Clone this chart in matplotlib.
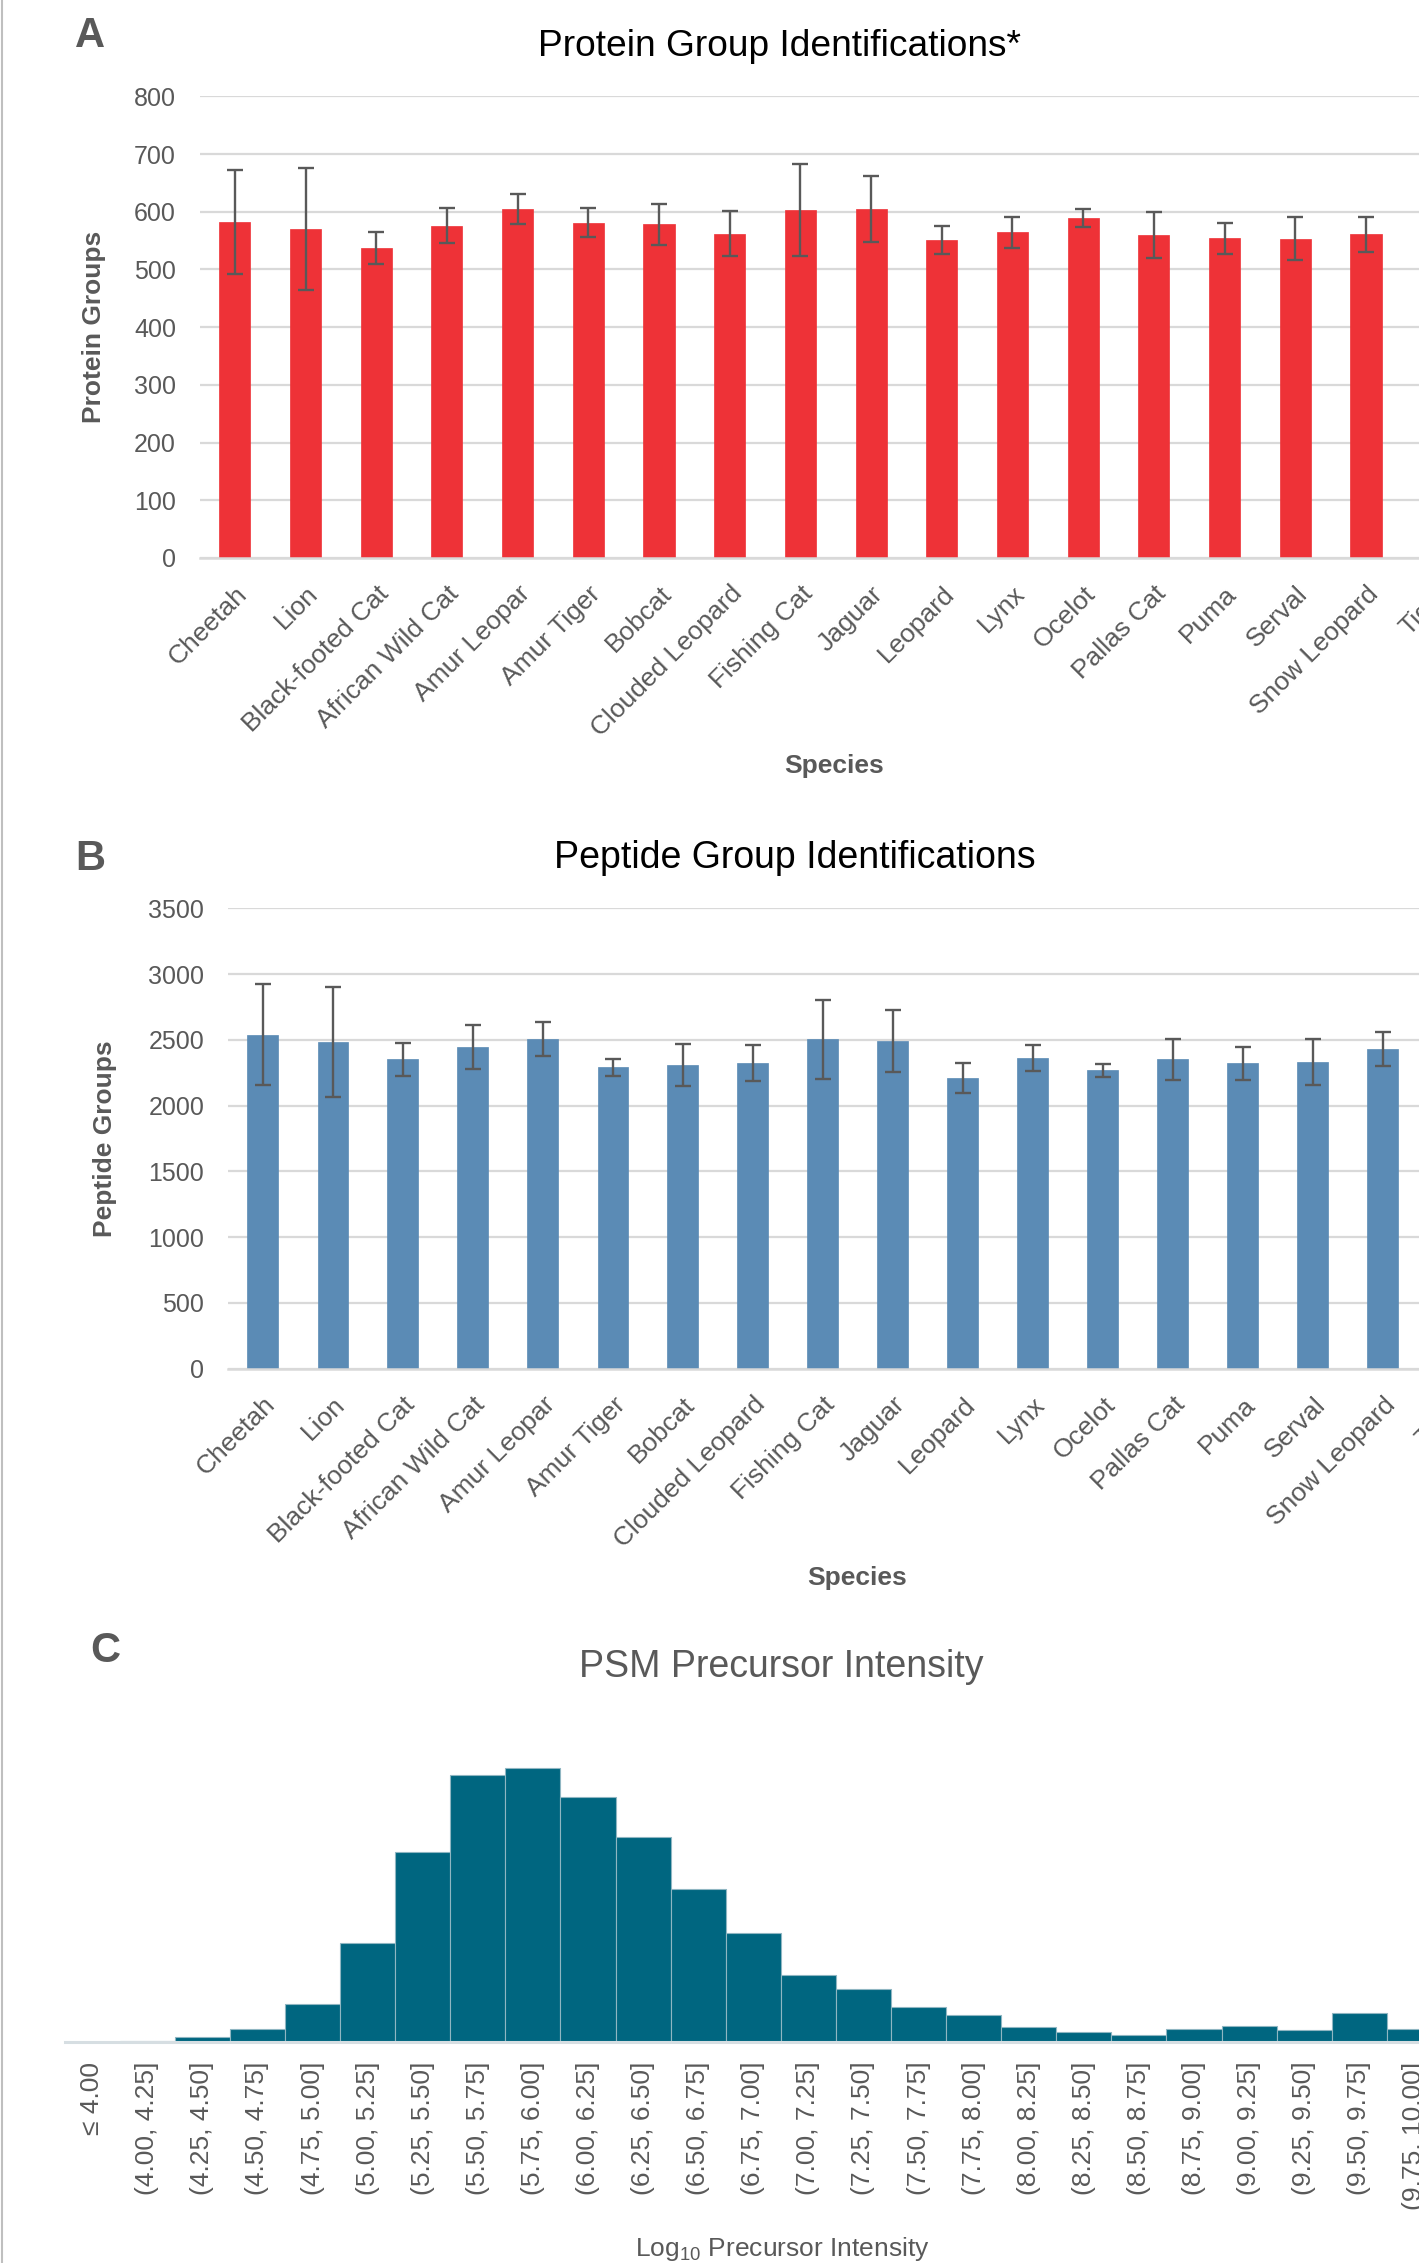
import matplotlib
matplotlib.use('Agg')
import matplotlib.pyplot as plt
from matplotlib.lines import Line2D
from matplotlib.transforms import ScaledTranslation

plt.rcParams['font.family'] = ['Liberation Sans', 'DejaVu Sans']
plt.rcParams['mathtext.fontset'] = 'custom'
plt.rcParams['mathtext.rm'] = 'Liberation Sans'
plt.rcParams['mathtext.it'] = 'Liberation Sans:italic'
plt.rcParams['mathtext.bf'] = 'Liberation Sans:bold'

# ---------------- data ----------------
species = ["Cheetah", "Lion", "Black-footed Cat", "African Wild Cat", "Amur Leopar",
           "Amur Tiger", "Bobcat", "Clouded Leopard", "Fishing Cat", "Jaguar",
           "Leopard", "Lynx", "Ocelot", "Pallas Cat", "Puma", "Serval",
           "Snow Leopard", "Tiger"]
protein_groups = [582, 570, 537, 576, 605, 581, 578, 562, 603, 605,
                  551, 564, 589, 559, 554, 553, 561, 570]
protein_err = [90, 105, 27, 31, 26, 25, 35, 39, 80, 57,
               24, 27, 16, 40, 27, 37, 30, 30]
peptide_groups = [2539, 2486, 2352, 2445, 2506, 2291, 2308, 2321, 2503, 2491,
                  2207, 2359, 2270, 2352, 2321, 2331, 2430, 2400]
peptide_err = [385, 418, 127, 168, 130, 63, 162, 137, 299, 233,
               114, 99, 49, 156, 126, 175, 126, 120]
protein_yticks = [0, 100, 200, 300, 400, 500, 600, 700, 800]
peptide_yticks = [0, 500, 1000, 1500, 2000, 2500, 3000, 3500]

intensity_bins = ["≤ 4.00", "(4.00, 4.25]", "(4.25, 4.50]", "(4.50, 4.75]",
                  "(4.75, 5.00]", "(5.00, 5.25]", "(5.25, 5.50]", "(5.50, 5.75]",
                  "(5.75, 6.00]", "(6.00, 6.25]", "(6.25, 6.50]", "(6.50, 6.75]",
                  "(6.75, 7.00]", "(7.00, 7.25]", "(7.25, 7.50]", "(7.50, 7.75]",
                  "(7.75, 8.00]", "(8.00, 8.25]", "(8.25, 8.50]", "(8.50, 8.75]",
                  "(8.75, 9.00]", "(9.00, 9.25]", "(9.25, 9.50]", "(9.50, 9.75]",
                  "(9.75, 10.00]", "> 10.00"]
psm_counts = [5, 17, 57, 137, 380, 990, 1903, 2677, 2747, 2453, 2050, 1537, 1090,
              673, 530, 353, 270, 153, 100, 70, 137, 167, 127, 297, 133, 150]

# ---------------- layout helpers ----------------
W, H = 1419, 2263
fig = plt.figure(figsize=(W / 100, H / 100), dpi=100)
fig.patch.set_facecolor('white')

def axes_px(x0, y_top, x1, y_bot):
    return fig.add_axes([x0 / W, 1 - y_bot / H, (x1 - x0) / W, (y_bot - y_top) / H])

def ftext(x, y, s, **kw):
    fig.text(x / W, 1 - y / H, s, **kw)

GRAY = '#595959'
GRID = '#D9D9D9'

def bar_panel(ax, values, errs, color, yticks, ymax):
    x = list(range(len(species)))
    ax.bar(x, values, width=0.44, color=color, edgecolor=color, linewidth=0.5, zorder=2)
    ax.errorbar(x, values, yerr=errs, fmt='none', ecolor=GRAY, elinewidth=1.7,
                capsize=5.5, capthick=1.7, zorder=3)
    ax.set_xlim(-0.5, len(species) - 0.5)
    ax.set_ylim(0, ymax)
    ax.set_yticks(yticks)
    ax.set_yticklabels([str(v) for v in yticks], fontsize=18, color=GRAY)
    ax.yaxis.grid(True, color=GRID, linewidth=1.6)
    ax.set_axisbelow(True)
    for s in ['top', 'right', 'left']:
        ax.spines[s].set_visible(False)
    ax.spines['bottom'].set_color(GRID)
    ax.spines['bottom'].set_linewidth(1.8)
    ax.set_xticks(x)
    ax.set_xticklabels(species, rotation=45, ha='right', va='top',
                       rotation_mode='anchor', fontsize=19, color=GRAY)
    offset = ScaledTranslation(-5 / 72, 2 / 72, fig.dpi_scale_trans)
    for lab in ax.get_xticklabels():
        lab.set_transform(lab.get_transform() + offset)
    ax.tick_params(axis='both', length=0)
    ax.tick_params(axis='y', pad=17)
    ax.tick_params(axis='x', pad=17)
    ax.set_facecolor('none')

# ---------------- Panel A ----------------
axA = axes_px(199.5, 96.3, 1472, 557.9)
bar_panel(axA, protein_groups, protein_err, '#EE3237', protein_yticks, 800)
ftext(90, 36, 'A', fontsize=30, fontweight='bold', color=GRAY, ha='center', va='center')
ftext(779.5, 47, 'Protein Group Identifications*', fontsize=26.7, color='black',
      ha='center', va='center')
ftext(94, 327, 'Protein Groups', fontsize=19, fontweight='bold', color=GRAY,
      rotation=90, ha='center', va='center')
ftext(834, 766, 'Species', fontsize=19, fontweight='bold', color=GRAY,
      ha='center', va='center')

# ---------------- Panel B ----------------
axB = axes_px(227.9, 908.2, 1487.9, 1368.8)
bar_panel(axB, peptide_groups, peptide_err, '#5B8BB5', peptide_yticks, 3500)
ftext(90, 859, 'B', fontsize=30, fontweight='bold', color=GRAY, ha='center', va='center')
ftext(795, 858, 'Peptide Group Identifications', fontsize=27, color='black',
      ha='center', va='center')
ftext(105, 1139, 'Peptide Groups', fontsize=19, fontweight='bold', color=GRAY,
      rotation=90, ha='center', va='center')
ftext(857.5, 1578, 'Species', fontsize=19, fontweight='bold', color=GRAY,
      ha='center', va='center')

# ---------------- Panel C ----------------
axC = axes_px(64.6, 1740, 1497, 2042.3)
xc = list(range(len(intensity_bins)))
axC.bar(xc, psm_counts, width=1.0, color='#006680', edgecolor='#8FB6C2',
        linewidth=0.8, zorder=2)
axC.set_xlim(-0.5, len(intensity_bins) - 0.5)
axC.set_ylim(0, 3023)
axC.set_yticks([])
for s in ['top', 'right', 'left']:
    axC.spines[s].set_visible(False)
axC.spines['bottom'].set_color('#D6DEE2')
axC.spines['bottom'].set_linewidth(2.2)
axC.set_xticks(xc)
axC.set_xticklabels(intensity_bins, rotation=90, ha='center', va='top',
                    fontsize=19, color=GRAY)
axC.tick_params(axis='x', length=0, pad=14)
axC.set_facecolor('none')
ftext(105.4, 1651.5, 'C', fontsize=30, fontweight='bold', color=GRAY,
      ha='center', va='center')
ftext(781, 1667, 'PSM Precursor Intensity', fontsize=27, color=GRAY,
      ha='center', va='center')
ftext(782, 2249, r'Log$_{10}$ Precursor Intensity', fontsize=19, color=GRAY,
      ha='center', va='center')

# left border line
fig.add_artist(Line2D([1.5 / W, 1.5 / W], [0, 1], color='#BFBFBF', linewidth=1.5))

fig.savefig('out.png', dpi=100, facecolor='white')
